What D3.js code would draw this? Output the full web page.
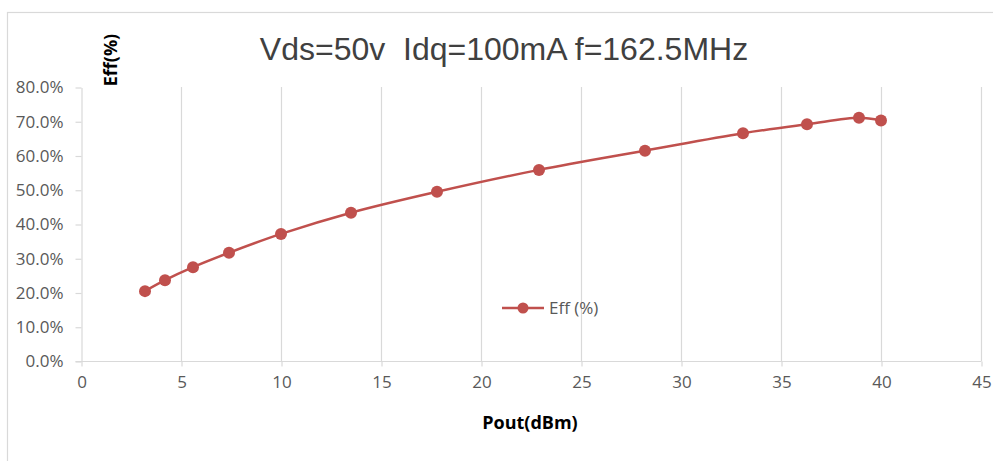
<!DOCTYPE html>
<html><head><meta charset="utf-8">
<script src="https://cdn.jsdelivr.net/npm/d3@7"></script>
<style>html,body{margin:0;padding:0;background:#fff;}svg{display:block;}</style>
</head><body>
<script>
const title = "Vds=50v  Idq=100mA f=162.5MHz";
const seriesName = "Eff (%)";
const xTitle = "Pout(dBm)";
const yTitle = "Eff(%)";
const poutDbm = [3.2, 4.2, 5.6, 7.4, 10.0, 13.5, 17.8, 22.9, 28.2, 33.1, 36.3, 38.9, 40.0];
const effPct = [20.4, 23.6, 27.4, 31.6, 37.1, 43.3, 49.4, 55.8, 61.4, 66.5, 69.1, 71.0, 70.2];
const xTicks = [0, 5, 10, 15, 20, 25, 30, 35, 40, 45];
const yTicks = [0, 10, 20, 30, 40, 50, 60, 70, 80];

const W = 993, H = 461;
const svg = d3.select("body").append("svg").attr("width", W).attr("height", H);
svg.append("rect").attr("x", 7.5).attr("y", 12.5).attr("width", 1000).attr("height", 500)
  .attr("fill", "#fff").attr("stroke", "#d9d9d9").attr("stroke-width", 1.2);

const x = d3.scaleLinear().domain([0, 45]).range([81, 981]);
const y = d3.scaleLinear().domain([0, 80]).range([361, 87]);
const grey = "#d9d9d9";
const labCol = "#595959";
const font = "'Open Sans', 'Liberation Sans', sans-serif";

// vertical gridlines
svg.append("g").selectAll("line").data(xTicks.filter(d => d > 0)).join("line")
  .attr("x1", d => x(d) + 0.5).attr("x2", d => x(d) + 0.5)
  .attr("y1", y(80)).attr("y2", y(0))
  .attr("stroke", grey).attr("stroke-width", 1.2);

// x axis
const gx = svg.append("g").attr("transform", `translate(0.5,${y(0) + 0.5})`)
  .call(d3.axisBottom(x).tickValues(xTicks).tickSize(5).tickPadding(9).tickSizeOuter(0));
gx.select(".domain").attr("stroke", grey).attr("stroke-width", 1.2)
  .attr("d", `M${x(0) - 6},0H${x(45)}`);
gx.selectAll(".tick line").attr("stroke", grey).attr("stroke-width", 1.2);
gx.selectAll(".tick text").attr("fill", labCol).attr("font-size", 17).attr("font-family", font);

// y axis
const gy = svg.append("g").attr("transform", `translate(${x(0) + 0.5},0.5)`)
  .call(d3.axisLeft(y).tickValues(yTicks).tickSize(6).tickPadding(12).tickSizeOuter(0)
    .tickFormat(d => d.toFixed(1) + "%"));
gy.select(".domain").attr("stroke", grey).attr("stroke-width", 1.2);
gy.selectAll(".tick line").attr("stroke", grey).attr("stroke-width", 1.2);
gy.selectAll(".tick text").attr("fill", labCol).attr("font-size", 17).attr("font-family", font);

// title
svg.append("text").attr("x", 504).attr("y", 60).attr("text-anchor", "middle")
  .style("white-space", "pre")
  .attr("font-family", "'Liberation Sans', Arial, sans-serif").attr("font-size", 32)
  .attr("fill", "#404040").text(title);

// axis titles
svg.append("text").attr("transform", "translate(117,60) rotate(-90)").attr("text-anchor", "middle")
  .attr("font-family", font).attr("font-weight", "bold").attr("font-size", 18)
  .attr("fill", "#000").text(yTitle);
svg.append("text").attr("x", 530).attr("y", 429).attr("text-anchor", "middle")
  .attr("font-family", font).attr("font-weight", "bold").attr("font-size", 18)
  .attr("fill", "#000").text(xTitle);

// series
const data = poutDbm.map((d, i) => [d, effPct[i]]);
const color = "#C0504D";
svg.append("path").datum(data)
  .attr("d", d3.line().x(d => x(d[0])).y(d => y(d[1])).curve(d3.curveCatmullRom.alpha(0.5)))
  .attr("fill", "none").attr("stroke", color).attr("stroke-width", 2.5);
svg.append("g").selectAll("circle").data(data).join("circle")
  .attr("cx", d => x(d[0])).attr("cy", d => y(d[1])).attr("r", 6).attr("fill", color);

// legend
svg.append("line").attr("x1", 502).attr("x2", 544).attr("y1", 308).attr("y2", 308)
  .attr("stroke", color).attr("stroke-width", 2.5);
svg.append("circle").attr("cx", 523).attr("cy", 308).attr("r", 5.5).attr("fill", color);
svg.append("text").attr("x", 549).attr("y", 314).attr("font-family", font).attr("font-size", 17)
  .attr("fill", labCol).text(seriesName);
</script>
</body></html>
